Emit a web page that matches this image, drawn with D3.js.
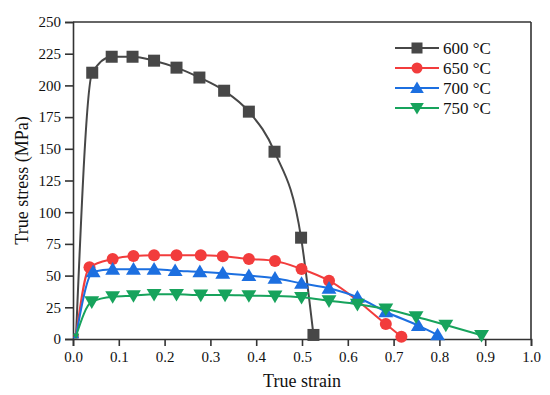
<!DOCTYPE html>
<html>
<head>
<meta charset="utf-8">
<script src="https://cdn.jsdelivr.net/npm/d3@7"></script>
<style>
  body { margin: 0; background: #fff; }
</style>
</head>
<body>
<div id="chart"></div>
<script>
// values
var labels = ["600 °C", "650 °C", "700 °C", "750 °C"];
var colors = ["#474747", "#f23c3c", "#1c6fe0", "#17a35c"];
var symbols = ["square", "circle", "up", "down"];

var strain600 = [0.0066, 0.042, 0.0845, 0.130, 0.177, 0.226, 0.276, 0.330, 0.384, 0.440, 0.498, 0.525];
var stress600 = [2.4, 210, 222.6, 222.6, 219.5, 214, 206.2, 195.8, 179.3, 147.7, 79.9, 3.2];

var strain650 = [0.0066, 0.036, 0.0866, 0.132, 0.177, 0.226, 0.279, 0.327, 0.384, 0.441, 0.499, 0.559, 0.683, 0.717];
var stress650 = [2.4, 56.5, 63.1, 65.5, 66, 66, 66, 65.2, 63.1, 61.5, 55.2, 46, 11.8, 1.8];

var strain700 = [0.0066, 0.044, 0.0866, 0.132, 0.177, 0.223, 0.277, 0.327, 0.384, 0.441, 0.499, 0.559, 0.621, 0.683, 0.754, 0.796];
var stress700 = [2.4, 53, 55, 55, 55, 53.9, 53, 51.8, 50, 47.9, 43.9, 40, 32.9, 21.5, 10.5, 3.2];

var strain750 = [0.0066, 0.041, 0.0866, 0.132, 0.177, 0.226, 0.279, 0.332, 0.384, 0.441, 0.499, 0.559, 0.621, 0.683, 0.749, 0.814, 0.892];
var stress750 = [2.4, 29.4, 33.4, 34.2, 35.2, 35.2, 34.7, 34.7, 34.2, 33.9, 32.9, 30.2, 27.4, 23.7, 17.6, 11, 2.9];

var xTicks = [0, 0.1, 0.2, 0.3, 0.4, 0.5, 0.6, 0.7, 0.8, 0.9, 1.0];
var yTicks = [0, 25, 50, 75, 100, 125, 150, 175, 200, 225, 250];

var strains = [strain600, strain650, strain700, strain750];
var stresses = [stress600, stress650, stress700, stress750];

var serif = "'Liberation Serif', 'Times New Roman', serif";

var width = 550,
    height = 395;
var margin = {top: 22, right: 19, bottom: 56, left: 73};
var w = width - margin.left - margin.right,
    h = height - margin.top - margin.bottom;

var x = d3.scaleLinear().domain([0, 1]).range([0, w]);
var y = d3.scaleLinear().domain([0, 250]).range([h, 0]);

var svg = d3.select("#chart").append("svg")
    .attr("width", width)
    .attr("height", height)
    .attr("font-family", serif);

var g = svg.append("g")
    .attr("transform", "translate(" + margin.left + "," + margin.top + ")");

// axes
var xAxis = g.append("g")
    .attr("transform", "translate(0," + h + ")")
    .call(d3.axisBottom(x).tickValues(xTicks).tickFormat(d3.format(".1f")).tickSizeOuter(0).tickSize(7).tickPadding(5));
var yAxis = g.append("g")
    .call(d3.axisLeft(y).tickValues(yTicks).tickSizeOuter(0).tickSize(8).tickPadding(4));

[xAxis, yAxis].forEach(function (a) {
    a.attr("font-family", serif).attr("font-size", 15);
    a.selectAll("path, line").attr("stroke", "#333").attr("stroke-width", 1.6);
    a.selectAll("text").attr("fill", "#111");
});

// frame top and right
g.append("line").attr("x1", 0).attr("x2", w).attr("y1", 0).attr("y2", 0)
    .attr("stroke", "#333").attr("stroke-width", 1.6);
g.append("line").attr("x1", w).attr("x2", w).attr("y1", 0).attr("y2", h)
    .attr("stroke", "#333").attr("stroke-width", 1.6);

function marker(sel, type, size, color) {
    var s = size;
    if (type == "square") {
        sel.append("rect").attr("x", -s / 2).attr("y", -s / 2).attr("width", s).attr("height", s).attr("fill", color);
    } else if (type == "circle") {
        sel.append("circle").attr("r", s / 2).attr("fill", color);
    } else if (type == "up") {
        sel.append("path").attr("d", "M0," + (-s * 0.6) + "L" + (s * 0.62) + "," + (s * 0.45) + "L" + (-s * 0.62) + "," + (s * 0.45) + "Z").attr("fill", color);
    } else {
        sel.append("path").attr("d", "M0," + (s * 0.6) + "L" + (s * 0.62) + "," + (-s * 0.45) + "L" + (-s * 0.62) + "," + (-s * 0.45) + "Z").attr("fill", color);
    }
}

var line = d3.line()
    .x(function (d) { return x(d[0]); })
    .y(function (d) { return y(d[1]); })
    .curve(d3.curveMonotoneX);

for (var i = 0; i < 4; i++) {
    var pts = strains[i].map(function (v, j) { return [v, stresses[i][j]]; });
    g.append("path")
        .datum(pts)
        .attr("d", line)
        .attr("fill", "none")
        .attr("stroke", colors[i])
        .attr("stroke-width", 2);
    pts.forEach(function (p, j) {
        var m = g.append("g").attr("transform", "translate(" + x(p[0]) + "," + y(p[1]) + ")");
        marker(m, symbols[i], j == 0 ? 5 : 12, colors[i]);
    });
}

// legend
var lg = svg.append("g").attr("transform", "translate(395,48)");
labels.forEach(function (l, i) {
    var row = lg.append("g").attr("transform", "translate(0," + i * 20 + ")");
    row.append("line").attr("x1", 0).attr("x2", 44).attr("stroke", colors[i]).attr("stroke-width", 2);
    var m = row.append("g").attr("transform", "translate(22,0)");
    marker(m, symbols[i], 11, colors[i]);
    row.append("text").attr("x", 48).attr("y", 6).attr("font-size", 17).attr("fill", "#111").text(l);
});

// axis titles
svg.append("text")
    .attr("x", margin.left + w / 2)
    .attr("y", 387)
    .attr("text-anchor", "middle")
    .attr("font-size", 18)
    .attr("fill", "#111")
    .text("True strain");

svg.append("text")
    .attr("transform", "translate(28," + (margin.top + h / 2) + ") rotate(-90)")
    .attr("text-anchor", "middle")
    .attr("font-size", 18)
    .attr("fill", "#111")
    .text("True stress (MPa)");
</script>
</body>
</html>
